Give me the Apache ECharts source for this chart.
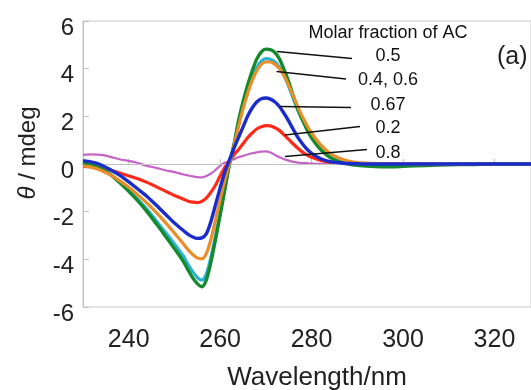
<!DOCTYPE html>
<html><head><meta charset="utf-8">
<script src="https://cdn.jsdelivr.net/npm/echarts@6/dist/echarts.min.js"></script>
<style>html,body{margin:0;padding:0;background:#fff}#c{width:531px;height:390px}</style>
</head><body><div id="c"></div>
<script>
var wavelength = [230,232,234,236,238,240,242,244,246,248,250,252,253,254,255,256,257,258,259,260,261,262,263,264,265,266,267,268,269,270,271,272,273,274,275,276,277,278,279,280,282,284,286,288,290,293,296,300,305,310,315,320,325,328];
var x05  = [0.05,-0.05,-0.2,-0.45,-0.78,-1.15,-1.55,-2.0,-2.5,-3.02,-3.55,-4.1,-4.45,-4.78,-5.02,-5.15,-4.85,-4.1,-3.15,-2.15,-1.1,-0.05,0.8,1.8,2.6,3.3,3.9,4.4,4.7,4.82,4.8,4.68,4.4,3.95,3.45,2.85,2.3,1.85,1.45,1.1,0.6,0.28,0.1,0.0,-0.06,-0.1,-0.12,-0.1,-0.06,-0.03,-0.02,0,0,0];
var x06  = [0.02,-0.06,-0.2,-0.43,-0.75,-1.1,-1.48,-1.9,-2.38,-2.86,-3.35,-3.88,-4.22,-4.52,-4.76,-4.87,-4.6,-3.9,-3.0,-2.05,-1.05,-0.05,0.75,1.65,2.4,3.05,3.6,4.05,4.32,4.42,4.4,4.28,4.05,3.7,3.25,2.75,2.25,1.85,1.45,1.12,0.62,0.3,0.12,0.04,0.0,-0.04,-0.05,-0.04,-0.02,0,0,0,0,0];
var x04  = [-0.08,-0.14,-0.27,-0.46,-0.7,-0.98,-1.3,-1.64,-2.03,-2.45,-2.9,-3.36,-3.6,-3.8,-3.94,-3.98,-3.75,-3.15,-2.35,-1.5,-0.7,0.0,0.75,1.55,2.3,2.95,3.5,3.9,4.18,4.28,4.28,4.18,4.0,3.7,3.3,2.85,2.4,1.98,1.62,1.3,0.8,0.45,0.25,0.12,0.06,0.03,0.02,0.01,0,0,0,0,0,0];
var x067 = [0.14,0.08,-0.04,-0.24,-0.47,-0.75,-1.05,-1.36,-1.72,-2.1,-2.48,-2.8,-2.95,-3.06,-3.12,-3.1,-2.92,-2.4,-1.7,-1.0,-0.35,0.15,0.65,1.1,1.55,2.0,2.35,2.6,2.74,2.77,2.72,2.6,2.4,2.12,1.8,1.45,1.12,0.85,0.62,0.45,0.22,0.1,0.05,0.02,0.01,0,0,0,0,0,0,0,0,0];
var x02  = [-0.1,-0.12,-0.16,-0.25,-0.38,-0.5,-0.62,-0.77,-0.95,-1.14,-1.32,-1.48,-1.56,-1.6,-1.62,-1.57,-1.42,-1.18,-0.88,-0.5,-0.15,0.12,0.38,0.6,0.85,1.1,1.3,1.47,1.56,1.61,1.6,1.52,1.4,1.22,1.03,0.84,0.66,0.5,0.38,0.28,0.15,0.08,0.04,0.02,0,0,0,0,0,0,0,0,0,0];
var x08  = [0.38,0.4,0.38,0.3,0.2,0.13,0.04,-0.08,-0.16,-0.26,-0.34,-0.44,-0.48,-0.52,-0.55,-0.56,-0.5,-0.4,-0.25,-0.08,0.05,0.12,0.2,0.28,0.34,0.4,0.45,0.49,0.52,0.53,0.48,0.38,0.28,0.2,0.14,0.09,0.06,0.04,0.03,0.02,0.01,0.01,0,0,0,0,0,0,0,0,0,0,0,0];
var xTicks = [240,260,280,300,320];
var labels = ["0.5","0.4, 0.6","0.67","0.2","0.8"];

function pairs(v){ return wavelength.map(function(w,i){ return [w, v[i]]; }); }
function line(name, v, color, w, z){
  return {name:name, type:'line', data:pairs(v), showSymbol:false, smooth:0.3, z:z,
    lineStyle:{color:color, width:w}, itemStyle:{color:color}};
}
var chart = echarts.init(document.getElementById('c'));
var series = [
  line('0.8', x08, '#c565c8', 2.2, 2),
  line('0.2', x02, '#ff2a18', 3.2, 3),
  line('0.6', x06, '#27b3d8', 3.2, 4),
  line('0.5', x05, '#148a2c', 3.4, 5),
  line('0.4', x04, '#ea8e2a', 3.2, 6),
  line('0.67', x067, '#1b2ccc', 3.4, 7)
];
series[0].markLine = {silent:true, symbol:'none', label:{show:false},
  lineStyle:{color:'#c4c4c4', width:1, type:'solid'}, data:[{yAxis:0}]};
var font = '"Liberation Sans", Arial, sans-serif';
var annoY = [56, 80, 105, 128.5, 153];
var leaders = [[277,51.5,352,58.5],[276.5,71.5,346,79],[280,106.5,351,107.5],[285,135,360,126.5],[285,156.5,367,149.5]];
var graphics = [
  {type:'text', x:388, y:33, style:{text:'Molar fraction of AC', font:'18px '+font, fill:'#111', align:'center', verticalAlign:'middle'}},
  {type:'text', x:497, y:57, style:{text:'(a)', font:'25px '+font, fill:'#222', align:'left', verticalAlign:'middle'}},
  {type:'text', x:317, y:378, style:{text:'Wavelength/nm', font:'26px '+font, fill:'#222', align:'center', verticalAlign:'middle'}},
  {type:'text', x:28, y:153, rotation:Math.PI/2, style:{text:'{i|θ} / mdeg', font:'24px '+font, fill:'#222', align:'center', verticalAlign:'middle',
     rich:{i:{fontStyle:'italic', fontSize:24, fontFamily:'"Liberation Sans", Arial, sans-serif', fill:'#222'}}}}
];
labels.forEach(function(t,i){
  graphics.push({type:'text', x:388, y:annoY[i], style:{text:t, font:'18px '+font, fill:'#111', align:'center', verticalAlign:'middle'}});
  var L = leaders[i];
  graphics.push({type:'line', shape:{x1:L[0],y1:L[1],x2:L[2],y2:L[3]}, style:{stroke:'#111', lineWidth:1.3}, z:100});
});
chart.setOption({
  animation:false,
  backgroundColor:'#fff',
  grid:{left:83, top:21, right:0, bottom:83, show:true, borderColor:'#c8c8c8', borderWidth:1},
  xAxis:{type:'value', min:230, max:328,
    axisLine:{show:true, lineStyle:{color:'#c0c0c0'}},
    axisTick:{show:true, inside:true, length:5, customValues:xTicks, lineStyle:{color:'#c0c0c0'}},
    axisLabel:{customValues:xTicks, fontSize:25, color:'#222', margin:21, fontFamily:font},
    splitLine:{show:false}},
  yAxis:{type:'value', min:-6, max:6, interval:2,
    axisLine:{show:true, lineStyle:{color:'#c0c0c0'}},
    axisTick:{show:true, inside:true, length:6, lineStyle:{color:'#c0c0c0'}},
    axisLabel:{color:'#222', margin:9, formatter:function(v){ return '{v|' + v + '}'; },
      rich:{v:{fontSize:24, color:'#222', fontFamily:font, padding:[14,0,0,0]}}},
    splitLine:{show:false}},
  series:series,
  graphic:graphics
});
</script></body></html>
